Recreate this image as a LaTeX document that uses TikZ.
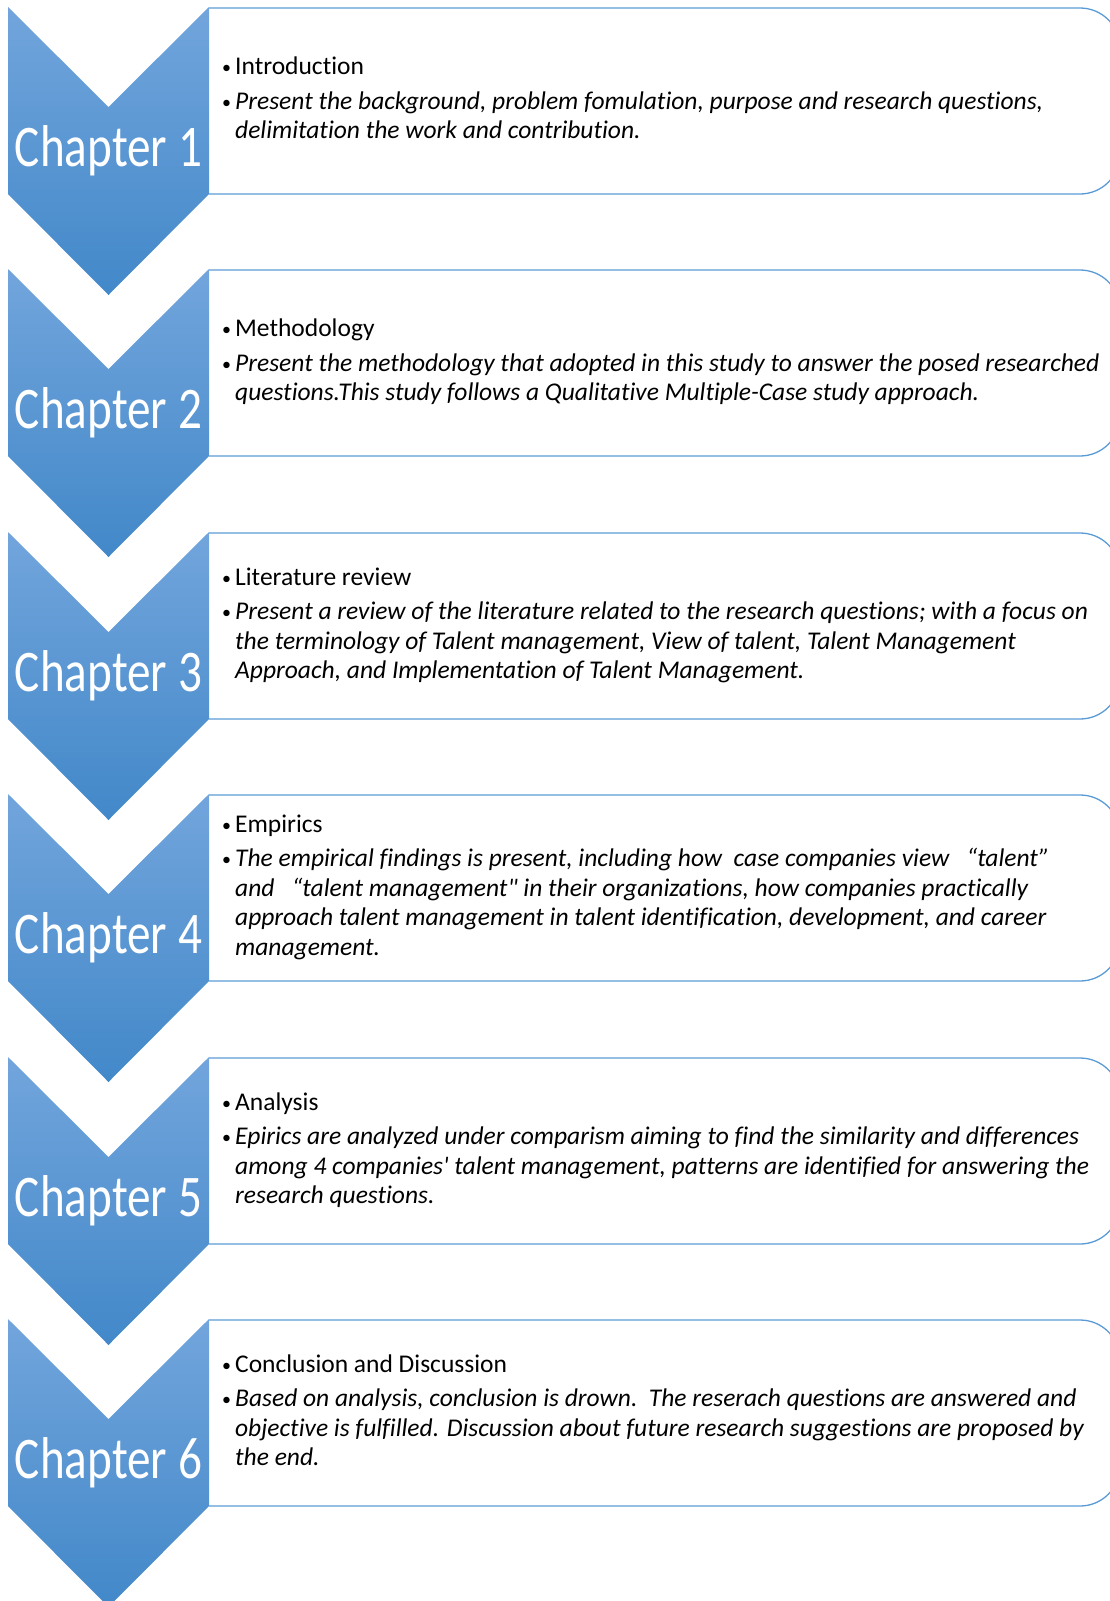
\documentclass[tikz,border=0pt]{standalone}
\usepackage{fontspec}
\setmainfont{Carlito}[Ligatures=NoCommon]
\newfontfamily\chapfont{Carlito}[FakeStretch=0.8]
\usepackage{array}
\usetikzlibrary{positioning}
\pgfdeclarelayer{nodelayer}
\pgfdeclarelayer{edgelayer}
\pgfsetlayers{edgelayer,main,nodelayer}
\definecolor{chevtop}{RGB}{114,165,220}
\definecolor{chevbot}{RGB}{66,136,201}
\definecolor{boxline}{RGB}{91,155,213}
\tikzset{chev/.style={top color=chevtop, bottom color=chevbot, draw=none}}
\tikzset{panel/.style={draw=boxline, line width=1.3pt, rounded corners=40pt}}
\tikzset{chaplabel/.style={text=white, anchor=base, inner sep=0pt, font=\chapfont\fontsize{59}{60}\selectfont}}
\tikzset{items/.style={anchor=west, inner sep=0pt, font=\fontsize{25.5}{29.5}\selectfont}}
\newcommand{\smallbul}{\raisebox{1pt}{\fontsize{18}{18}\selectfont\textbullet}}
\newcommand{\chapitems}[2]{%
\begin{tabular}{@{}l@{\hspace{4pt}}l@{}}
\smallbul & #1\\[5pt]
\smallbul & \begin{tabular}[t]{@{}>{\itshape}l@{}}#2\end{tabular}
\end{tabular}}

\begin{document}
\begin{tikzpicture}[x=1pt, y=-1pt]
	\useasboundingbox (0,0) rectangle (1110,1601);
	\begin{pgfonlayer}{edgelayer}
		\draw [style=panel] (209,8) -- (1120,8) -- (1120,194) -- (209,194);
		\draw [style=panel] (209,270) -- (1120,270) -- (1120,456) -- (209,456);
		\draw [style=panel] (209,533) -- (1120,533) -- (1120,719) -- (209,719);
		\draw [style=panel] (209,795) -- (1120,795) -- (1120,981) -- (209,981);
		\draw [style=panel] (209,1058) -- (1120,1058) -- (1120,1244) -- (209,1244);
		\draw [style=panel] (209,1320) -- (1120,1320) -- (1120,1506) -- (209,1506);
	\end{pgfonlayer}
	% chevrons
	\shade [style=chev] (8,7) -- (108.5,107) -- (209,7) -- (209,194) -- (108.5,295) -- (8,194) -- cycle;
	\shade [style=chev] (8,269) -- (108.5,369) -- (209,269) -- (209,456) -- (108.5,557) -- (8,456) -- cycle;
	\shade [style=chev] (8,532) -- (108.5,632) -- (209,532) -- (209,719) -- (108.5,820) -- (8,719) -- cycle;
	\shade [style=chev] (8,794) -- (108.5,894) -- (209,794) -- (209,981) -- (108.5,1082) -- (8,981) -- cycle;
	\shade [style=chev] (8,1057) -- (108.5,1157) -- (209,1057) -- (209,1244) -- (108.5,1345) -- (8,1244) -- cycle;
	\shade [style=chev] (8,1319) -- (108.5,1419) -- (209,1319) -- (209,1506) -- (108.5,1607) -- (8,1506) -- cycle;
	\begin{pgfonlayer}{nodelayer}
		\node [style=chaplabel] (ch1) at (108.5,166) {Chapter 1};
		\node [style=chaplabel] (ch2) at (108.5,428) {Chapter 2};
		\node [style=chaplabel] (ch3) at (108.5,691) {Chapter 3};
		\node [style=chaplabel] (ch4) at (108.5,953) {Chapter 4};
		\node [style=chaplabel] (ch5) at (108.5,1216) {Chapter 5};
		\node [style=chaplabel] (ch6) at (108.5,1478) {Chapter 6};
		\node [style=items] (it1) at (222,101) {\chapitems{Introduction}{Present the background, problem fomulation, purpose and research questions,\\ delimitation the work and contribution.}};
		\node [style=items] (it2) at (222,363) {\chapitems{Methodology}{Present the methodology that adopted in this study to answer the posed researched\\ questions.This study follows a Qualitative Multiple-Case study approach.}};
		\node [style=items] (it3) at (222,626) {\chapitems{Literature review}{Present a review of the literature related to the research questions; with a focus on\\ the terminology of Talent management, View of talent, Talent Management\\ Approach, and Implementation of Talent Management.}};
		\node [style=items] (it4) at (222,888) {\chapitems{Empirics}{The empirical findings is present, including how\ \ case companies view\ \ \ “talent”\\ and\ \ \ “talent management\textquotedbl{} in their organizations, how companies practically\\ approach talent management in talent identification, development, and career\\ management.}};
		\node [style=items] (it5) at (222,1151) {\chapitems{Analysis}{Epirics are analyzed under comparism aiming to find the similarity and differences\\ among 4 companies\textquotesingle{} talent management, patterns are identified for answering the\\ research questions.}};
		\node [style=items] (it6) at (222,1413) {\chapitems{Conclusion and Discussion}{Based on analysis, conclusion is drown.\ \ The reserach questions are answered and\\ objective is fulfilled. Discussion about future research suggestions are proposed by\\ the end.}};
	\end{pgfonlayer}
\end{tikzpicture}
\end{document}
